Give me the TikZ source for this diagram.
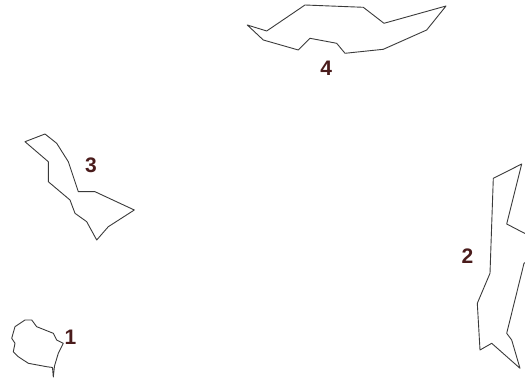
\documentclass[tikz,border=0pt]{standalone}
\usepackage{fontspec}
\setmainfont{Liberation Sans}
\definecolor{lbl}{HTML}{4A1C1C}
\definecolor{edge}{HTML}{3A3A3A}
\tikzset{
  region/.style={draw=edge, line width=0.9pt, line join=round},
  lab/.style={text=lbl, font=\fontsize{21}{21}\selectfont\bfseries, inner sep=0pt}
}
\begin{document}
\begin{tikzpicture}[x=1pt,y=-1pt]
\useasboundingbox (0,0) rectangle (525,379);
\clip (0,0) rectangle (525,379);
% shape 4
\draw[region] (247.3,25) -- (266.7,31) -- (305,5) -- (363.3,7.3) -- (384,23.3) -- (446,6) -- (426.7,30) -- (383.3,49.3) -- (345,53.3) -- (336.7,43.3) -- (310,38.3) -- (298.3,50) -- (263.3,40) -- cycle;
\node[lab] (l4) at (326.3,68.7) {4};
% shape 3
\draw[region] (25,141.7) -- (45,134) -- (56.7,143.3) -- (68.3,161.7) -- (78.3,191.7) -- (95,191.7) -- (134.3,210) -- (108.3,226.7) -- (96.7,240) -- (86.7,221.7) -- (75,213.3) -- (70,200) -- (48.3,181.7) -- (48.3,161.7) -- cycle;
\node[lab] (l3) at (91,165) {3};
% shape 1
\draw[region] (15,326.7) -- (25,320) -- (31.7,320) -- (36.7,326.7) -- (53.3,333.3) -- (56.7,340) -- (63.3,343.3) -- (58.3,353.3) -- (54.5,366) -- (53.3,377) -- (52.5,367.5) -- (46.7,366.7) -- (28.3,363.3) -- (18.3,356.7) -- (13.3,351.7) -- (15,343.3) -- (11.7,338.3) -- cycle;
\node[lab] (l1) at (70.5,337.5) {1};
% shape 2
\draw[region] (521.7,164) -- (493.3,178.3) -- (490,273.3) -- (477.3,303.3) -- (480,350) -- (491.7,343.3) -- (520,368.3) -- (511.7,340) -- (506.7,333.3) -- (524,263.3) -- (532,258) -- (532,236) -- (524,233) -- (506.7,224) -- cycle;
\node[lab] (l2) at (467.5,256) {2};
\end{tikzpicture}
\end{document}
